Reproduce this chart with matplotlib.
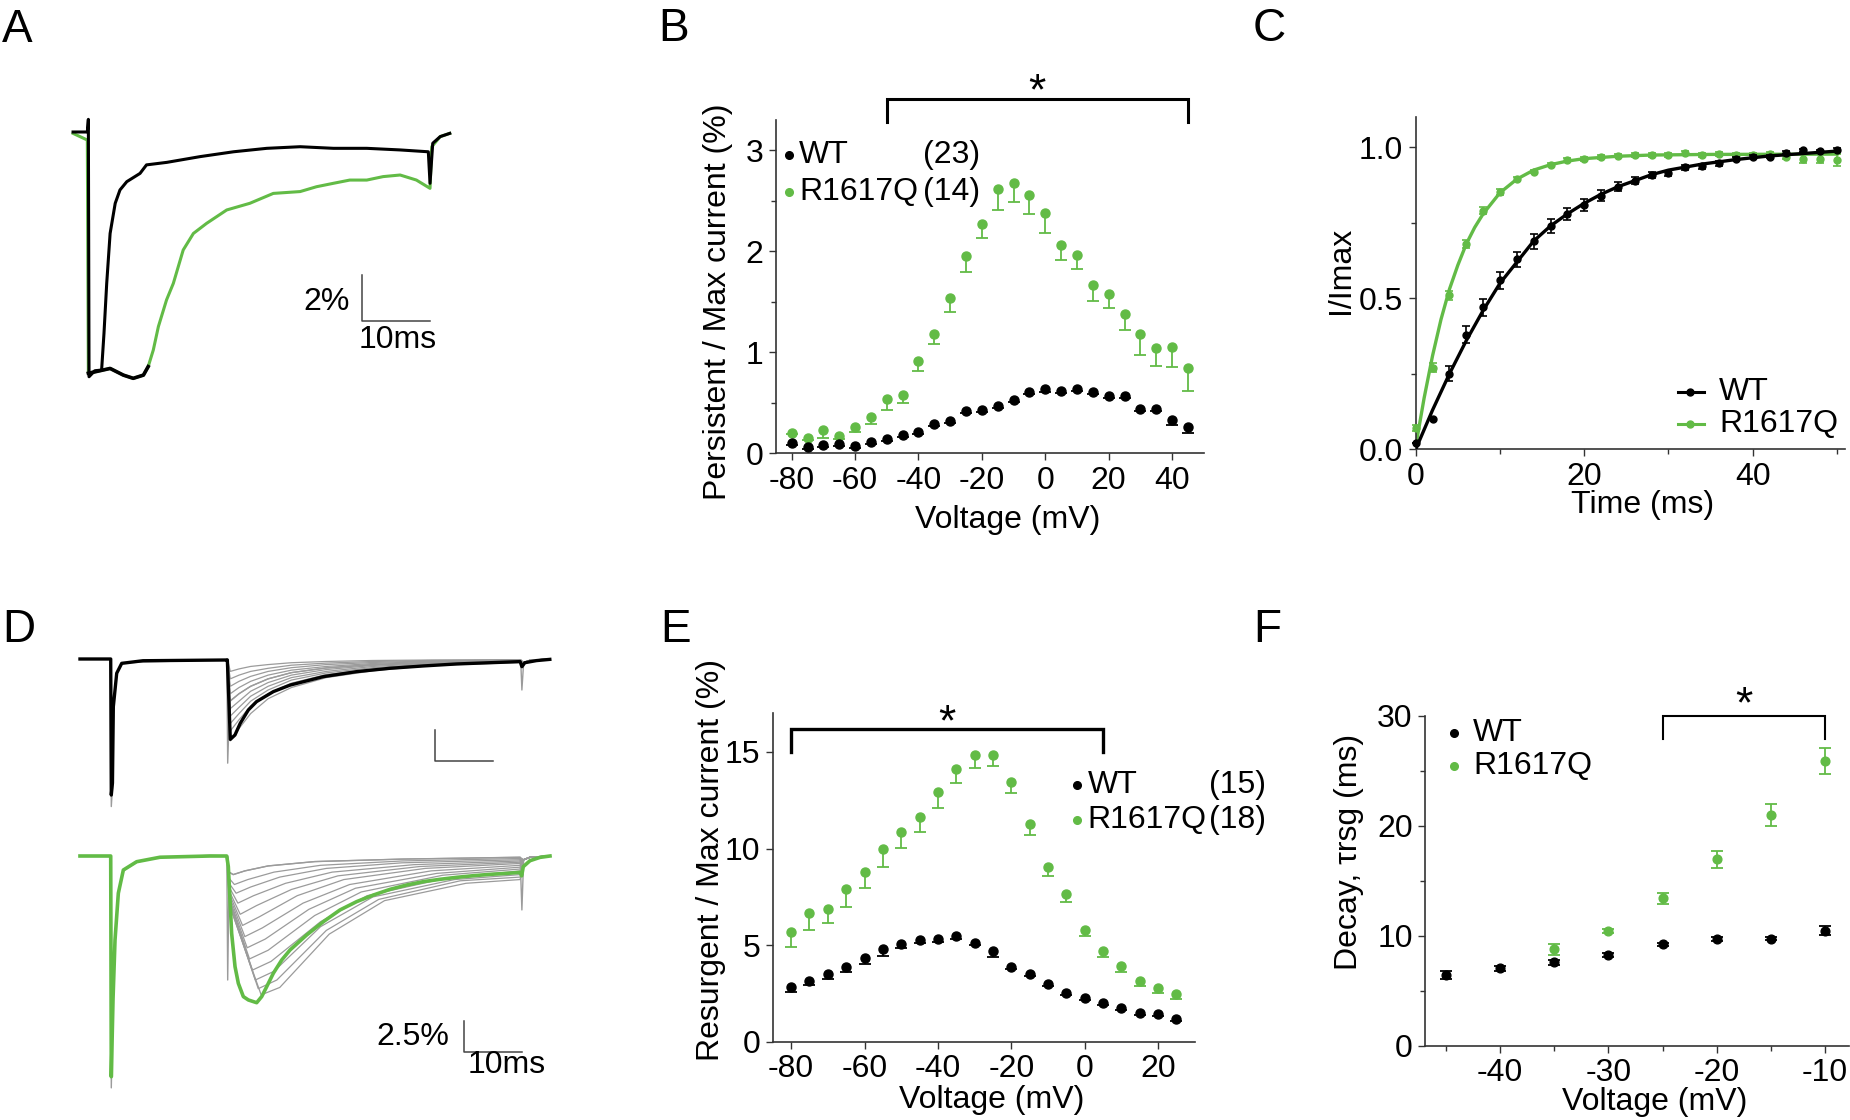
import numpy as np
import matplotlib
matplotlib.use("Agg")
import matplotlib.pyplot as plt

plt.rcParams['font.family'] = ['Liberation Sans', 'DejaVu Sans']
plt.rcParams['font.size'] = 23
plt.rcParams['axes.unicode_minus'] = False

# ─── Colours ──────────────────────────────────────────────────────────────────
GREEN = '#62bb46'
GRAY = '#9b9b9b'
SPINE = '#333333'

# ─── Panel A: example persistent-current traces (ms, % of peak) ──────────────
A_T_WT = [-2.2, -0.1, 0.05, 0.15, 1.0, 2.0, 2.35, 2.75, 3.25, 4.0, 4.7, 5.7, 7.65, 8.6,
          11.6, 16.5, 21.4, 26.3, 31.2, 36.1, 41.0, 45.9, 50.05, 50.3, 50.7, 51.8, 53.2]
A_I_WT = [0.0, 0.0, 0.55, -10.64, -10.38, -10.35, -8.75, -6.58, -4.41, -3.10, -2.52, -2.16, -1.80, -1.43,
          -1.32, -1.07, -0.86, -0.71, -0.64, -0.71, -0.71, -0.78, -0.86, -2.23, -0.49, -0.20, -0.06]
A_T_R = [-2.2, -0.1, 0.05, 1.75, 3.25, 5.2, 6.65, 8.15, 8.85, 9.6, 10.35, 11.55, 12.55, 14.0, 15.5,
         17.45, 20.4, 23.8, 27.25, 31.2, 33.6, 36.1, 38.5, 41.0, 43.4, 45.9, 48.3, 50.3, 50.55, 51.8, 53.2]
A_I_R = [-0.06, -0.35, -10.49, -10.38, -10.28, -10.57, -10.71, -10.57, -10.20, -9.48, -8.46, -7.30, -6.58,
         -5.13, -4.41, -3.97, -3.39, -3.10, -2.67, -2.59, -2.38, -2.23, -2.09, -2.09, -1.94, -1.87, -2.09,
         -2.45, -0.64, -0.20, -0.06]

# ─── Panel B: persistent / max current (%) ───────────────────────────────────
B_V = [-80, -75, -70, -65, -60, -55, -50, -45, -40, -35, -30, -25, -20, -15, -10, -5,
       0, 5, 10, 15, 20, 25, 30, 35, 40, 45]
B_WT = [0.10, 0.06, 0.08, 0.09, 0.07, 0.11, 0.14, 0.18, 0.21, 0.29, 0.32, 0.42, 0.43, 0.47, 0.53, 0.61,
        0.64, 0.62, 0.64, 0.61, 0.57, 0.57, 0.44, 0.44, 0.33, 0.26]
B_WT_ERR = [0.02, 0.02, 0.02, 0.02, 0.02, 0.02, 0.02, 0.02, 0.02, 0.02, 0.02, 0.02, 0.02, 0.02, 0.02, 0.02,
            0.03, 0.02, 0.02, 0.02, 0.02, 0.02, 0.02, 0.02, 0.05, 0.06]
B_R = [0.20, 0.15, 0.23, 0.17, 0.26, 0.36, 0.54, 0.58, 0.91, 1.18, 1.54, 1.95, 2.27, 2.62, 2.68, 2.56,
       2.38, 2.06, 1.96, 1.67, 1.58, 1.38, 1.18, 1.04, 1.05, 0.84]
B_R_ERR = [0.01, 0.02, 0.08, 0.03, 0.05, 0.07, 0.11, 0.08, 0.10, 0.10, 0.14, 0.15, 0.14, 0.21, 0.19, 0.19,
           0.20, 0.15, 0.14, 0.16, 0.14, 0.16, 0.21, 0.18, 0.20, 0.22]

# ─── Panel C: recovery from inactivation ─────────────────────────────────────
C_T = [0, 2, 4, 6, 8, 10, 12, 14, 16, 18, 20, 22, 24, 26, 28, 30, 32, 34, 36, 38, 40, 42, 44, 46, 48, 50]
C_WT = [0.02, 0.10, 0.25, 0.38, 0.47, 0.56, 0.63, 0.69, 0.74, 0.78, 0.81, 0.84, 0.87, 0.89, 0.91, 0.915,
        0.935, 0.937, 0.948, 0.963, 0.970, 0.970, 0.983, 0.990, 0.987, 0.992]
C_WT_ERR = [0, 0, 0.025, 0.028, 0.028, 0.028, 0.025, 0.025, 0.022, 0.02, 0.02, 0.018, 0.015, 0.012, 0.01,
            0.008, 0.008, 0.008, 0.008, 0.006, 0.006, 0.006, 0.006, 0.006, 0.006, 0.006]
C_R = [0.07, 0.27, 0.51, 0.68, 0.79, 0.854, 0.896, 0.920, 0.943, 0.959, 0.962, 0.968, 0.973, 0.975, 0.976,
       0.975, 0.981, 0.976, 0.978, 0.976, 0.976, 0.978, 0.970, 0.962, 0.962, 0.959]
C_R_ERR = [0.01, 0.015, 0.015, 0.013, 0.012, 0.01, 0.006, 0.006, 0.006, 0.006, 0.006, 0.006, 0.006, 0.006,
           0.006, 0.006, 0.006, 0.006, 0.006, 0.006, 0.006, 0.006, 0.008, 0.015, 0.015, 0.02]
FIT_WT_T = [0, 2, 4, 6, 8, 10, 12, 14, 16, 18, 20, 22, 24, 26, 28, 30, 34, 38, 42, 46, 50]
FIT_WT = [0.0, 0.13, 0.25, 0.36, 0.46, 0.55, 0.62, 0.69, 0.74, 0.78, 0.815, 0.845, 0.87, 0.89, 0.91, 0.925,
          0.945, 0.96, 0.972, 0.98, 0.988]
FIT_R_T = [0, 1, 2, 3, 4, 5, 6, 7, 8, 10, 12, 14, 16, 18, 20, 24, 28, 35, 50]
FIT_R = [0.01, 0.17, 0.31, 0.43, 0.53, 0.61, 0.68, 0.735, 0.78, 0.85, 0.895, 0.925, 0.943, 0.955, 0.963,
         0.971, 0.975, 0.977, 0.978]

# ─── Panel D: resurgent current families (ms, % of peak) ─────────────────────
D_T_WT = [-5.33, -0.05, 0.05, 0.25, 0.40, 0.98, 1.84, 5.5, 19.9, 19.99, 20.5, 21.3, 22.2, 23.6, 25.0, 27.9,
          30.8, 36.5, 42.2, 47.9, 53.7, 59.4, 65.1, 70.3, 70.6, 71.1, 73.1, 75.4]
D_I_WT = [0, 0, -10.97, -10.0, -3.85, -1.15, -0.35, -0.14, -0.08, -0.08, -6.48, -6.13, -5.19, -4.11, -3.44,
          -2.63, -2.10, -1.42, -1.02, -0.75, -0.56, -0.40, -0.30, -0.21, -0.62, -0.30, -0.13, -0.03]
D_T_R = [-5.33, -0.05, 0.05, 0.35, 0.69, 1.26, 2.12, 4.41, 8.42, 17.0, 19.88, 20.16, 20.45, 20.73, 21.31,
         21.88, 22.74, 23.6, 25.03, 25.89, 26.75, 27.89, 29.33, 30.76, 33.62, 36.48, 39.35, 42.21, 45.07,
         47.94, 50.8, 53.66, 56.53, 59.4, 62.25, 65.12, 67.99, 70.27, 70.56, 70.84, 71.99, 73.71, 75.43]
D_I_R = [0, 0, -17.8, -11.5, -6.77, -3.0, -1.13, -0.46, -0.1, 0.0, 0.0, -0.86, -3.55, -6.24, -8.92,
         -10.27, -11.34, -11.61, -11.83, -11.34, -10.54, -9.46, -8.39, -7.58, -6.37, -5.30, -4.35, -3.68,
         -3.15, -2.69, -2.34, -2.07, -1.88, -1.72, -1.59, -1.48, -1.40, -1.32, -1.6, -0.86, -0.38, -0.11, 0.0]

# gray sweeps behind the WT highlight (common time grid after the repolarising step)
GRAY_WT_T = [20.0, 20.5, 22, 24, 27, 31, 37, 45, 55, 70.4]
GRAY_WT_I = [
    [0, -1.0, -0.8, -0.6, -0.45, -0.3, -0.2, -0.12, -0.08, -0.05],
    [0, -1.6, -1.3, -1.0, -0.75, -0.5, -0.33, -0.2, -0.12, -0.08],
    [0, -2.2, -1.8, -1.4, -1.0, -0.7, -0.45, -0.28, -0.16, -0.1],
    [0, -2.8, -2.3, -1.8, -1.3, -0.9, -0.6, -0.36, -0.2, -0.12],
    [0, -3.4, -2.8, -2.2, -1.6, -1.1, -0.72, -0.45, -0.26, -0.15],
    [0, -4.0, -3.4, -2.6, -1.9, -1.3, -0.85, -0.52, -0.3, -0.17],
    [0, -4.6, -3.9, -3.0, -2.2, -1.5, -1.0, -0.6, -0.35, -0.2],
    [0, -5.2, -4.4, -3.4, -2.5, -1.7, -1.12, -0.7, -0.4, -0.22],
    [0, -5.8, -4.9, -3.8, -2.8, -1.95, -1.25, -0.8, -0.45, -0.25],
    [0, -6.6, -5.6, -4.4, -3.2, -2.3, -1.5, -0.95, -0.52, -0.28],
]
GRAY_WT_BASE_T = [-5.3, -0.05, 0.05, 0.3, 0.45, 1.0, 2.0, 19.9, 20.05, 20.4, 22, 24, 27, 31, 37, 45, 55,
                  70.4, 70.6, 70.9, 72, 75.4]
GRAY_WT_BASE_I = [0, 0, -11.9, -10, -3.5, -1.1, -0.3, -0.05, -8.4, -3.4, -2.8, -2.2, -1.6, -1.1, -0.72,
                  -0.45, -0.26, -0.15, -2.5, -0.3, -0.1, 0]

# gray sweeps behind the R1617Q highlight, each as its own (t, I) list
GRAY_R_T = [
    [20.0, 20.3, 21.0, 23.0, 27.0, 35.0, 50.0, 70.3],
    [20.0, 20.3, 21.2, 23.5, 28.0, 36.0, 50.0, 70.3],
    [20.0, 20.3, 21.5, 24.0, 29.0, 37.0, 50.0, 70.3],
    [20.0, 20.3, 21.8, 24.5, 30.0, 38.0, 52.0, 70.3],
    [20.0, 20.3, 22.2, 25.0, 31.0, 39.0, 53.0, 70.3],
    [20.0, 20.3, 22.6, 25.5, 32.0, 40.0, 54.0, 70.3],
    [20.0, 20.3, 23.0, 26.0, 33.0, 41.0, 55.0, 70.3],
    [20.0, 20.3, 23.4, 26.5, 34.0, 42.0, 56.0, 70.3],
    [20.0, 20.3, 23.8, 27.0, 35.0, 43.0, 57.0, 70.3],
    [20.0, 20.3, 24.3, 27.5, 36.0, 44.0, 58.0, 70.3],
    [20.0, 20.3, 24.8, 28.0, 36.0, 45.0, 59.0, 70.3],
    [20.0, 20.3, 25.3, 28.5, 37.0, 46.0, 60.0, 70.3],
    [20.0, 20.3, 25.8, 29.0, 37.5, 47.0, 61.0, 70.3],
]
GRAY_R_I = [
    [0, -1.3, -1.5, -1.2, -0.8, -0.45, -0.25, -0.1],
    [0, -1.8, -2.3, -1.9, -1.3, -0.75, -0.4, -0.2],
    [0, -2.2, -3.0, -2.5, -1.7, -1.0, -0.55, -0.3],
    [0, -2.5, -3.8, -3.2, -2.2, -1.3, -0.7, -0.4],
    [0, -2.8, -4.7, -4.0, -2.7, -1.6, -0.85, -0.5],
    [0, -3.0, -5.6, -4.9, -3.2, -1.9, -1.0, -0.6],
    [0, -3.2, -6.5, -5.8, -3.8, -2.3, -1.2, -0.75],
    [0, -3.4, -7.4, -6.7, -4.3, -2.6, -1.4, -0.9],
    [0, -3.5, -8.3, -7.6, -4.8, -2.9, -1.55, -1.05],
    [0, -3.6, -9.2, -8.5, -5.3, -3.2, -1.75, -1.2],
    [0, -3.7, -10.0, -9.3, -5.7, -3.3, -1.9, -1.5],
    [0, -3.8, -10.7, -10.0, -6.0, -3.5, -2.0, -1.7],
    [0, -3.9, -11.2, -10.6, -6.3, -3.6, -2.2, -1.9],
]
GRAY_R_BASE_T = [-5.3, -0.05, 0.05, 0.35, 0.69, 1.26, 2.12, 4.41, 8.42, 17.0, 19.9, 20.05, 20.3, 21.0,
                 23.0, 27.0, 35.0, 50.0, 70.3, 70.6, 70.9, 72.0, 75.4]
GRAY_R_BASE_I = [0, 0, -18.7, -12.0, -7.0, -3.1, -1.2, -0.5, -0.1, 0.05, 0.0, -10.0, -1.3, -1.5, -1.2,
                 -0.8, -0.45, -0.25, -0.1, -4.35, -0.3, -0.1, 0.0]
GRAY_END_T = [70.9, 72.0, 75.4]
GRAY_END_I = [-0.3, -0.1, 0.0]

# ─── Panel E: resurgent / max current (%) ────────────────────────────────────
E_V = [-80, -75, -70, -65, -60, -55, -50, -45, -40, -35, -30, -25, -20, -15, -10, -5, 0, 5, 10, 15, 20, 25]
E_WT = [2.81, 3.16, 3.48, 3.88, 4.31, 4.78, 5.05, 5.29, 5.34, 5.48, 5.12, 4.71, 3.88, 3.48, 2.97, 2.50,
        2.28, 1.98, 1.76, 1.47, 1.41, 1.17]
E_WT_ERR = [0.22, 0.2, 0.25, 0.25, 0.3, 0.35, 0.2, 0.2, 0.2, 0.15, 0.1, 0.3, 0.1, 0.1, 0.1, 0.1,
            0.1, 0.1, 0.1, 0.1, 0.1, 0.1]
E_R = [5.69, 6.64, 6.86, 7.90, 8.76, 9.95, 10.86, 11.64, 12.93, 14.10, 14.83, 14.86, 13.45, 11.26, 9.05,
       7.64, 5.78, 4.71, 3.91, 3.14, 2.76, 2.45]
E_R_ERR = [0.78, 0.86, 0.69, 0.95, 0.79, 0.90, 0.81, 0.81, 0.81, 0.71, 0.66, 0.60, 0.57, 0.57, 0.47, 0.43,
           0.31, 0.31, 0.29, 0.24, 0.22, 0.24]

# ─── Panel F: resurgent decay time constant (ms) ─────────────────────────────
F_V_WT = [-45, -40, -35, -30, -25, -20, -15, -10]
F_WT = [6.42, 7.03, 7.58, 8.24, 9.21, 9.70, 9.73, 10.45]
F_WT_ERR = [0.4, 0.2, 0.2, 0.15, 0.15, 0.15, 0.15, 0.4]
F_V_R = [-35, -30, -25, -20, -15, -10]
F_R = [8.76, 10.42, 13.39, 16.94, 20.97, 25.88]
F_R_ERR = [0.5, 0.2, 0.5, 0.75, 1.0, 1.2]

# ─── Figure helpers ───────────────────────────────────────────────────────────
W, H = 1850, 1120
fig = plt.figure(figsize=(W / 100, H / 100), dpi=100)


def px_axes(left, right, top, bottom):
    return fig.add_axes([left / W, 1 - bottom / H, (right - left) / W, (bottom - top) / H])


def style_axes(ax):
    for s in ('top', 'right'):
        ax.spines[s].set_visible(False)
    for s in ('left', 'bottom'):
        ax.spines[s].set_color(SPINE)
        ax.spines[s].set_linewidth(1.2)
    ax.tick_params(which='major', direction='out', length=5, width=1, color=SPINE, labelsize=23, pad=4)
    ax.tick_params(which='minor', direction='out', length=3.5, width=1, color=SPINE)


def lower_errorbars(ax, x, y, err, color, capsize=4):
    _, caps, _ = ax.errorbar(x, y, yerr=[err, np.zeros(len(err))], fmt='none', ecolor=color,
                             elinewidth=1.3, capsize=capsize, capthick=1.3, zorder=2)
    for c in caps:
        if np.allclose(c.get_ydata(), y):
            c.set_visible(False)


def bracket(ax, x0, x1, ylo, yhi, lw):
    ax.plot([x0, x0, x1, x1], [ylo, yhi, yhi, ylo], color='black', lw=lw, clip_on=False,
            solid_joinstyle='miter')


def panel_letter(x, y, s):
    fig.text(x / W, 1 - y / H, s, fontsize=33, va='baseline', ha='left')


# ─── A ────────────────────────────────────────────────────────────────────────
axA = px_axes(60, 470, 100, 400)
axA.set_axis_off()
axA.set_xlim(-4.12, 56.18)
axA.set_ylim(-11.652, 1.391)
axA.plot(A_T_R, A_I_R, color=GREEN, lw=2.2)
axA.plot(A_T_R[2:9], A_I_R[2:9], color='black', lw=2.6)
axA.plot(A_T_WT, A_I_WT, color='black', lw=2.2)
axA.plot([40.3, 40.3, 50.3], [-6.22, -8.22, -8.22], color='#444444', lw=1.1)
axA.text(38.5, -7.38, '2%', ha='right', va='center')
axA.text(45.6, -9.04, '10ms', ha='center', va='center')

# ─── B ────────────────────────────────────────────────────────────────────────
axB = px_axes(775.8, 1204.4, 120, 453.3)
style_axes(axB)
axB.set_xlim(-85, 50.2)
axB.set_ylim(0, 3.3)
axB.set_xticks([-80, -60, -40, -20, 0, 20, 40])
axB.set_yticks([0, 1, 2, 3])
axB.set_yticks([0.5, 1.5, 2.5], minor=True)
lower_errorbars(axB, B_V, B_R, B_R_ERR, GREEN)
lower_errorbars(axB, B_V, B_WT, B_WT_ERR, 'black')
axB.plot(B_V, B_R, 'o', color=GREEN, ms=6.5, zorder=3, clip_on=False)
axB.plot(B_V, B_WT, 'o', color='black', ms=6.5, zorder=4, clip_on=False)
bracket(axB, -50, 45, 3.28, 3.51, 2.2)
axB.text(-2.5, 3.455, '*', fontsize=32, ha='center', va='baseline')
axB.plot([-80.7], [2.95], 'o', color='black', ms=5.5, clip_on=False)
axB.plot([-80.7], [2.59], 'o', color=GREEN, ms=5.5, clip_on=False)
axB.text(-77.6, 2.95, 'WT', va='center')
axB.text(-38.5, 2.95, '(23)', va='center')
axB.text(-77.6, 2.59, 'R1617Q', va='center')
axB.text(-38.5, 2.59, '(14)', va='center')
axB.text(-0.134, 0.454, 'Persistent / Max current (%)', rotation=90, ha='center', va='center',
         transform=axB.transAxes)
axB.text(0.540, -0.200, 'Voltage (mV)', ha='center', va='center', transform=axB.transAxes)

# ─── C ────────────────────────────────────────────────────────────────────────
axC = px_axes(1415.7, 1845.4, 117.3, 449.3)
style_axes(axC)
axC.set_xlim(0, 51)
axC.set_ylim(0, 1.1)
axC.set_xticks([0, 20, 40])
axC.set_xticks([10, 30, 50], minor=True)
axC.set_yticks([0, 0.5, 1.0])
axC.set_yticklabels(['0.0', '0.5', '1.0'])
axC.set_yticks([0.25, 0.75], minor=True)
axC.plot(FIT_R_T, FIT_R, color=GREEN, lw=2.4, zorder=2)
axC.errorbar(C_T, C_R, yerr=C_R_ERR, fmt='o', color=GREEN, ms=5, elinewidth=1.2, capsize=3,
             capthick=1.2, zorder=3, clip_on=False)
axC.plot(FIT_WT_T, FIT_WT, color='black', lw=2.4, zorder=4)
axC.errorbar(C_T, C_WT, yerr=C_WT_ERR, fmt='o', color='black', ms=5, elinewidth=1.2, capsize=3,
             capthick=1.2, zorder=5, clip_on=False)
axC.plot([31.1, 34.2], [0.19, 0.19], color='black', lw=2.2, clip_on=False)
axC.plot([32.6], [0.19], 'o', color='black', ms=5, clip_on=False)
axC.plot([31.1, 34.2], [0.085, 0.085], color=GREEN, lw=2.2, clip_on=False)
axC.plot([32.6], [0.085], 'o', color=GREEN, ms=5, clip_on=False)
axC.text(36.0, 0.19, 'WT', va='center')
axC.text(36.0, 0.085, 'R1617Q', va='center')
axC.text(-0.175, 0.540, 'I/Imax', rotation=90, ha='center', va='center', transform=axC.transAxes)
axC.text(0.527, -0.168, 'Time (ms)', ha='center', va='center', transform=axC.transAxes)

# ─── D ────────────────────────────────────────────────────────────────────────
axD1 = px_axes(60, 560, 640, 820)
axD2 = px_axes(60, 560, 830, 1110)
for ax in (axD1, axD2):
    ax.set_axis_off()
    ax.set_xlim(-8.763, 77.148)
axD1.set_ylim(-12.984, 1.532)
axD2.set_ylim(-20.484, 2.097)

for sweep in GRAY_WT_I:
    axD1.plot(GRAY_WT_T + GRAY_END_T, sweep + GRAY_END_I, color=GRAY, lw=0.9)
axD1.plot(GRAY_WT_BASE_T, GRAY_WT_BASE_I, color=GRAY, lw=1.0)
axD1.plot(D_T_WT, D_I_WT, color='black', lw=2.4)
axD1.plot([55.7, 55.7, 65.7], [-5.73, -8.23, -8.23], color='#444444', lw=1.1)

for ts, sweep in zip(GRAY_R_T, GRAY_R_I):
    axD2.plot(ts + GRAY_END_T, sweep + GRAY_END_I, color=GRAY, lw=0.9)
axD2.plot(GRAY_R_BASE_T, GRAY_R_BASE_I, color=GRAY, lw=1.0)
axD2.plot(D_T_R, D_I_R, color=GREEN, lw=2.6)
axD2.plot([60.7, 60.7, 70.7], [-13.28, -15.78, -15.78], color='#444444', lw=1.1)
axD2.text(58.2, -14.57, '2.5%', ha='right', va='center')
axD2.text(68.0, -16.85, '10ms', ha='center', va='center')

# ─── E ────────────────────────────────────────────────────────────────────────
axE = px_axes(772.8, 1194.8, 713.3, 1041.7)
style_axes(axE)
axE.set_xlim(-85, 30)
axE.set_ylim(0, 17)
axE.set_xticks([-80, -60, -40, -20, 0, 20])
axE.set_yticks([0, 5, 10, 15])
lower_errorbars(axE, E_V, E_R, E_R_ERR, GREEN)
lower_errorbars(axE, E_V, E_WT, E_WT_ERR, 'black')
axE.plot(E_V, E_R, 'o', color=GREEN, ms=6.5, zorder=3)
axE.plot(E_V, E_WT, 'o', color='black', ms=6.5, zorder=4)
bracket(axE, -80, 5, 15.0, 16.21, 2.4)
axE.text(-37.5, 15.88, '*', fontsize=32, ha='center', va='baseline')
axE.plot([-2.1], [13.3], 'o', color='black', ms=5.5, clip_on=False)
axE.plot([-2.1], [11.47], 'o', color=GREEN, ms=5.5, clip_on=False)
axE.text(0.73, 13.3, 'WT', va='center')
axE.text(33.8, 13.3, '(15)', va='center')
axE.text(0.73, 11.47, 'R1617Q', va='center')
axE.text(33.8, 11.47, '(18)', va='center')
axE.text(-0.147, 0.553, 'Resurgent / Max current (%)', rotation=90, ha='center', va='center',
         transform=axE.transAxes)
axE.text(0.519, -0.178, 'Voltage (mV)', ha='center', va='center', transform=axE.transAxes)

# ─── F ────────────────────────────────────────────────────────────────────────
axF = px_axes(1425.2, 1848.9, 715.7, 1045.7)
style_axes(axF)
axF.set_xlim(-46.9, -7.8)
axF.set_ylim(0, 30)
axF.set_xticks([-40, -30, -20, -10])
axF.set_xticks([-45, -35, -25, -15], minor=True)
axF.set_yticks([0, 10, 20, 30])
axF.set_yticks([5, 15, 25], minor=True)
axF.errorbar(F_V_R, F_R, yerr=F_R_ERR, fmt='o', color=GREEN, ms=6.3, elinewidth=1.3, capsize=4,
             capthick=1.3, zorder=3)
axF.errorbar(F_V_WT, F_WT, yerr=F_WT_ERR, fmt='o', color='black', ms=6.3, elinewidth=1.3, capsize=4,
             capthick=1.3, zorder=4)
bracket(axF, -25, -10, 27.9, 30.0, 1.5)
axF.text(-17.5, 29.85, '*', fontsize=32, ha='center', va='baseline')
axF.plot([-44.2], [28.4], 'o', color='black', ms=5.5, clip_on=False)
axF.plot([-44.2], [25.4], 'o', color=GREEN, ms=5.5, clip_on=False)
axF.text(-42.5, 28.4, 'WT', va='center')
axF.text(-42.5, 25.4, 'R1617Q', va='center')
axF.text(-0.180, 0.587, 'Decay, τrsg (ms)', rotation=90, ha='center', va='center',
         transform=axF.transAxes)
axF.text(0.541, -0.170, 'Voltage (mV)', ha='center', va='center', transform=axF.transAxes)

# ─── Panel letters ────────────────────────────────────────────────────────────
panel_letter(2, 42, 'A')
panel_letter(658, 41, 'B')
panel_letter(1253, 41, 'C')
panel_letter(2, 642, 'D')
panel_letter(660, 642, 'E')
panel_letter(1253, 642, 'F')

fig.savefig('out.png', dpi=100)
